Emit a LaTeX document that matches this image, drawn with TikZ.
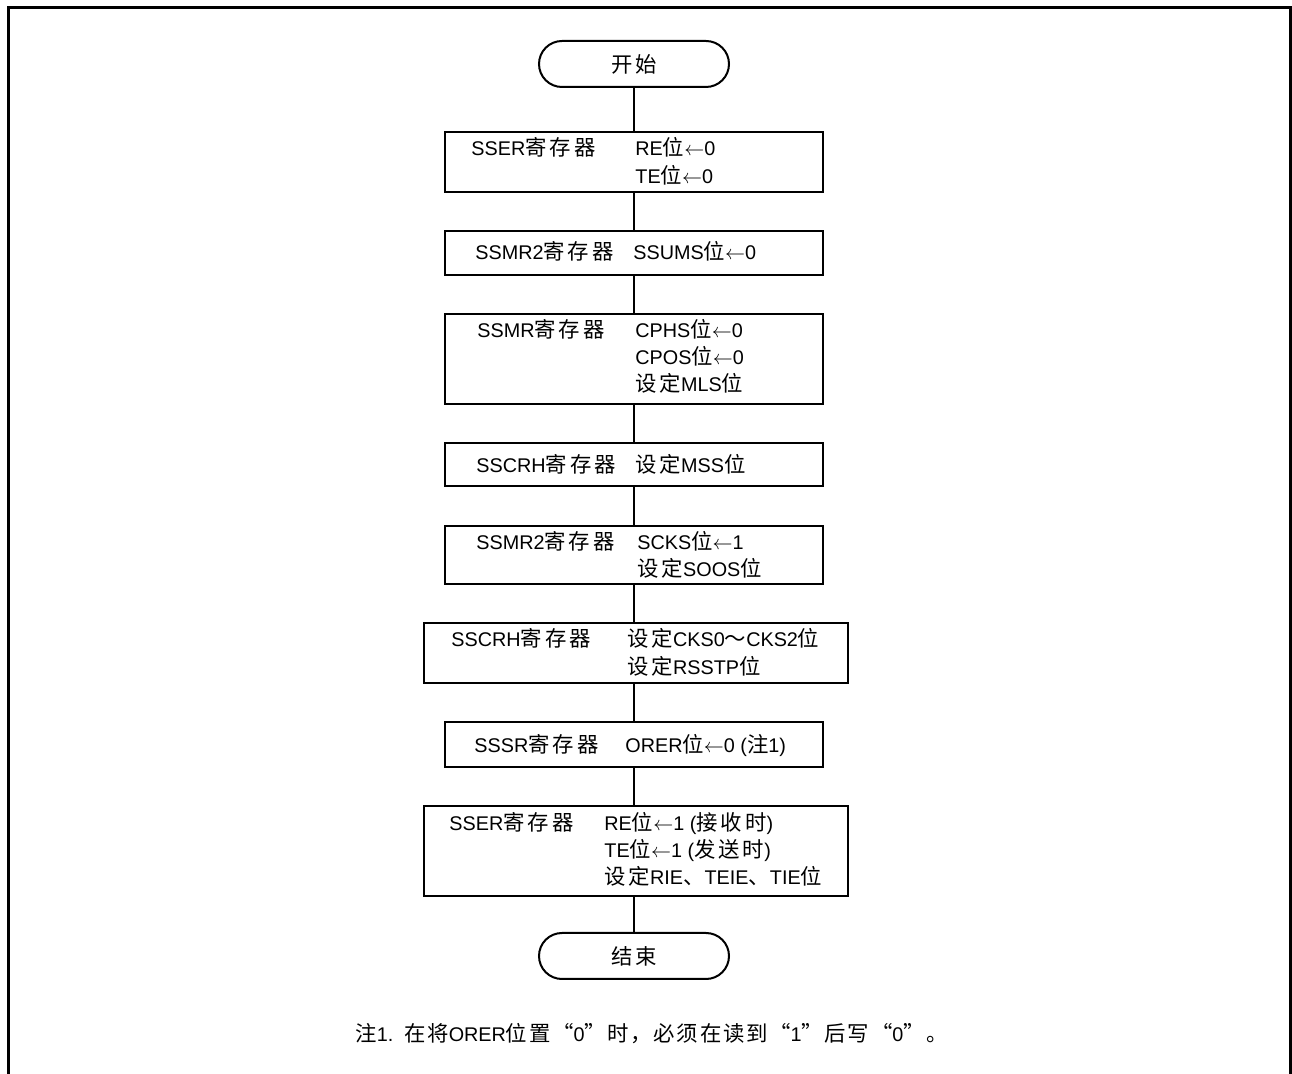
\documentclass[tikz,border=0pt]{standalone}
\usepackage{fontspec}
\setmainfont{Liberation Sans}
\newfontfamily\cjk[Scale=1.08, LetterSpace=14]{Noto Sans CJK SC}
\newfontfamily\cjknote[Scale=1.08, LetterSpace=8]{Noto Sans CJK SC}
\newcommand{\zh}[1]{{\cjk #1}}
\newcommand{\zhn}[1]{{\cjknote #1}}
\newcommand{\fcfont}{\fontsize{9.9}{13.5}\selectfont}
\newcommand{\setto}{$\leftarrow$}
\usetikzlibrary{positioning}
\tikzset{
  fcterm/.style={draw, line width=1pt, rounded corners=11.5pt, minimum width=95pt,
                 minimum height=23pt, inner sep=0pt, font=\fcfont},
  fcbox/.style={draw, line width=1pt, minimum width=189pt, inner sep=0pt},
  fcwide/.style={fcbox, minimum width=212pt},
  fctxt/.style={anchor=base west, inner sep=0pt, font=\fcfont},
  fcrel/.style={line width=1pt},
  fcframe/.style={line width=1.5pt},
}

\begin{document}
\begin{tikzpicture}[x=0.5pt, y=-0.5pt]
  \useasboundingbox (0,0) rectangle (1292,1074);
  \draw[fcframe] (8.7,1074) -- (8.7,7.3) -- (1290.5,7.3) -- (1290.5,1074);

  % terminals
  \node[fcterm] (S) at (634,64) {\zh{开始}};
  \node[fcterm] (E) at (634,956) {\zh{结束}};

  % register boxes
  \node[fcbox, minimum height=30pt] (R1) at (634,162) {};
  \node[fcbox, minimum height=22pt] (R2) at (634,253) {};
  \node[fcbox, minimum height=45pt] (R3) at (634,359) {};
  \node[fcbox, minimum height=21.5pt] (R4) at (634,464.5) {};
  \node[fcbox, minimum height=29pt] (R5) at (634,555) {};
  \node[fcwide, minimum height=30pt] (R6) at (636,653) {};
  \node[fcbox, minimum height=22.5pt] (R7) at (634,744.5) {};
  \node[fcwide, minimum height=45pt] (R8) at (636,851) {};

  \node[fctxt] (R1a) at (471,156) {SSER\zh{寄存器}};
  \node[fctxt] (R1b) at (635,156) {RE\zh{位}\setto0};
  \node[fctxt] (R1c) at (635,184) {TE\zh{位}\setto0};

  \node[fctxt] (R2a) at (475,260) {SSMR2\zh{寄存器}};
  \node[fctxt] (R2b) at (633,260) {SSUMS\zh{位}\setto0};

  \node[fctxt] (R3a) at (477,338) {SSMR\zh{寄存器}};
  \node[fctxt] (R3b) at (635,338) {CPHS\zh{位}\setto0};
  \node[fctxt] (R3c) at (635,365) {CPOS\zh{位}\setto0};
  \node[fctxt] (R3d) at (635,392) {\zh{设定}MLS\zh{位}};

  \node[fctxt] (R4a) at (476,473) {SSCRH\zh{寄存器}};
  \node[fctxt] (R4b) at (635,473) {\zh{设定}MSS\zh{位}};

  \node[fctxt] (R5a) at (476,550) {SSMR2\zh{寄存器}};
  \node[fctxt] (R5b) at (637,550) {SCKS\zh{位}\setto1};
  \node[fctxt] (R5c) at (637,577) {\zh{设定}SOOS\zh{位}};

  \node[fctxt] (R6a) at (451,647) {SSCRH\zh{寄存器}};
  \node[fctxt] (R6b) at (627,647) {\zh{设定}CKS0\zh{～}CKS2\zh{位}};
  \node[fctxt] (R6c) at (627,675) {\zh{设定}RSSTP\zh{位}};

  \node[fctxt] (R7a) at (474,753) {SSSR\zh{寄存器}};
  \node[fctxt] (R7b) at (625,753) {ORER\zh{位}\setto0 (\zh{注}1)};

  \node[fctxt] (R8a) at (449,831) {SSER\zh{寄存器}};
  \node[fctxt] (R8b) at (604,831) {RE\zh{位}\setto1 (\zh{接收时})};
  \node[fctxt] (R8c) at (604,858) {TE\zh{位}\setto1 (\zh{发送时})};
  \node[fctxt] (R8d) at (604,885) {\zh{设定}RIE\zh{、}TEIE\zh{、}TIE\zh{位}};

  % connectors
  \draw[fcrel] (S) -- (R1);
  \draw[fcrel] (R1) -- (R2);
  \draw[fcrel] (R2) -- (R3);
  \draw[fcrel] (R3) -- (R4);
  \draw[fcrel] (R4) -- (R5);
  \draw[fcrel] (R5.south) -- (R5.south |- R6.north);
  \draw[fcrel] (R6.south -| R7.north) -- (R7.north);
  \draw[fcrel] (R7.south) -- (R7.south |- R8.north);
  \draw[fcrel] (R8.south -| E.north) -- (E.north);

  % note
  \node[fctxt] (N) at (355,1042) {\zhn{注}1.\ \ \zhn{在将}ORER\zhn{位置“}0\zhn{”时，必须在读到“}1\zhn{”后写“}0\zhn{”。}};
\end{tikzpicture}
\end{document}
